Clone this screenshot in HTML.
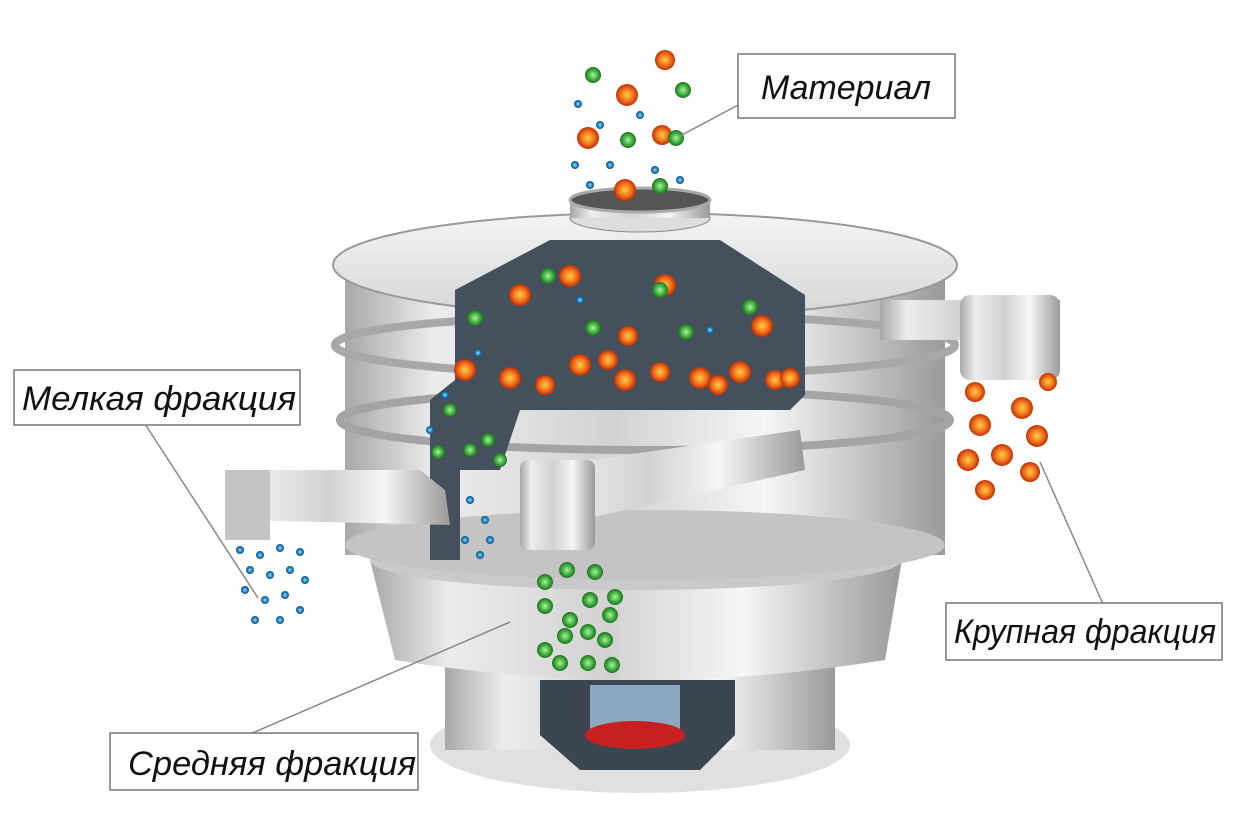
<!DOCTYPE html>
<html><head><meta charset="utf-8"><style>
html,body{margin:0;padding:0;background:#fff;}
.lbl{font-family:"Liberation Sans",sans-serif;font-style:italic;font-size:34px;fill:#111;}
</style></head><body>
<svg width="1233" height="827" viewBox="0 0 1233 827" xmlns="http://www.w3.org/2000/svg">
<defs>
<linearGradient id="steel" x1="0" x2="1" y1="0" y2="0">
<stop offset="0" stop-color="#a8a8a8"/><stop offset="0.15" stop-color="#ececec"/><stop offset="0.45" stop-color="#d2d2d2"/><stop offset="0.7" stop-color="#f6f6f6"/><stop offset="1" stop-color="#9a9a9a"/>
</linearGradient>
<linearGradient id="lid" x1="0" x2="0" y1="0" y2="1">
<stop offset="0" stop-color="#f4f4f4"/><stop offset="1" stop-color="#d6d6d6"/>
</linearGradient>
<radialGradient id="og"><stop offset="0" stop-color="#ffd040"/><stop offset="0.6" stop-color="#f07020"/><stop offset="1" stop-color="#c03000"/></radialGradient>
<radialGradient id="gg"><stop offset="0" stop-color="#b0f0a0"/><stop offset="0.6" stop-color="#40b040"/><stop offset="1" stop-color="#207020"/></radialGradient>
<radialGradient id="bg"><stop offset="0" stop-color="#a0e0ff"/><stop offset="0.6" stop-color="#2080c0"/><stop offset="1" stop-color="#105080"/></radialGradient>
</defs>

<!-- base -->
<ellipse cx="640" cy="745" rx="210" ry="48" fill="#e0e0e0"/>
<rect x="445" y="640" width="390" height="110" fill="url(#steel)"/>
<path d="M540 680 L735 680 L735 735 L700 770 L580 770 L540 735 Z" fill="#3c4650"/>
<rect x="590" y="685" width="90" height="45" fill="#8aa8c0"/>
<ellipse cx="635" cy="735" rx="50" ry="14" fill="#c82020"/>
<!-- lower body -->
<path d="M370 560 L902 560 L885 660 Q640 700 395 660 Z" fill="url(#steel)"/>
<ellipse cx="636" cy="560" rx="266" ry="30" fill="#cacaca"/>
<!-- decks -->
<rect x="345" y="275" width="600" height="280" fill="url(#steel)"/>
<ellipse cx="645" cy="545" rx="300" ry="35" fill="#c4c4c4"/>
<ellipse cx="645" cy="420" rx="305" ry="30" fill="none" stroke="#a4a4a4" stroke-width="8"/>
<ellipse cx="645" cy="345" rx="310" ry="30" fill="none" stroke="#a8a8a8" stroke-width="8"/>
<!-- lid -->
<ellipse cx="645" cy="265" rx="312" ry="52" fill="url(#lid)" stroke="#999" stroke-width="2"/>
<!-- cutaway -->
<path d="M455 290 L550 240 L720 240 L805 295 L805 395 L790 410 L520 410 L500 470 L460 470 L460 560 L430 560 L430 400 L455 380 Z" fill="#44505c"/>
<!-- inlet -->
<ellipse cx="640" cy="218" rx="70" ry="14" fill="#ddd" stroke="#888"/>
<rect x="570" y="200" width="140" height="18" fill="url(#steel)"/>
<ellipse cx="640" cy="200" rx="70" ry="12" fill="#555" stroke="#aaa" stroke-width="3"/>
<!-- spouts -->
<path d="M230 470 L420 470 L445 490 L450 525 L235 520 Z" fill="url(#steel)"/>
<rect x="225" y="470" width="45" height="70" fill="#c4c4c4"/>
<path d="M520 470 L800 430 L805 470 L580 520 Z" fill="url(#steel)"/>
<rect x="520" y="460" width="75" height="90" rx="8" fill="url(#steel)"/>
<rect x="880" y="300" width="180" height="40" fill="url(#steel)"/>
<rect x="960" y="295" width="100" height="85" rx="10" fill="url(#steel)"/>
<!-- particles -->
<g fill="url(#og)">
<circle cx="625" cy="190" r="11"/><circle cx="588" cy="138" r="11"/><circle cx="662" cy="135" r="10"/><circle cx="627" cy="95" r="11"/><circle cx="665" cy="60" r="10"/>
<circle cx="520" cy="295" r="11"/><circle cx="570" cy="276" r="11"/><circle cx="665" cy="285" r="11"/><circle cx="762" cy="326" r="11"/><circle cx="628" cy="336" r="10"/>
<circle cx="465" cy="370" r="11"/><circle cx="510" cy="378" r="11"/><circle cx="545" cy="385" r="10"/><circle cx="580" cy="365" r="11"/><circle cx="608" cy="360" r="10"/><circle cx="625" cy="380" r="11"/><circle cx="660" cy="372" r="10"/><circle cx="700" cy="378" r="11"/><circle cx="740" cy="372" r="11"/><circle cx="775" cy="380" r="10"/><circle cx="790" cy="378" r="10"/><circle cx="718" cy="385" r="10"/>
<circle cx="975" cy="392" r="10"/><circle cx="1022" cy="408" r="11"/><circle cx="980" cy="425" r="11"/><circle cx="1037" cy="436" r="11"/><circle cx="968" cy="460" r="11"/><circle cx="1002" cy="455" r="11"/><circle cx="1030" cy="472" r="10"/><circle cx="985" cy="490" r="10"/><circle cx="1048" cy="382" r="9"/>
</g>
<g fill="url(#gg)">
<circle cx="660" cy="186" r="8"/><circle cx="628" cy="140" r="8"/><circle cx="593" cy="75" r="8"/><circle cx="683" cy="90" r="8"/><circle cx="676" cy="138" r="8"/>
<circle cx="475" cy="318" r="8"/><circle cx="548" cy="276" r="8"/><circle cx="660" cy="290" r="8"/><circle cx="593" cy="328" r="8"/><circle cx="686" cy="332" r="8"/><circle cx="750" cy="307" r="8"/>
<circle cx="450" cy="410" r="7"/><circle cx="438" cy="452" r="7"/><circle cx="470" cy="450" r="7"/><circle cx="488" cy="440" r="7"/><circle cx="500" cy="460" r="7"/>
<circle cx="545" cy="582" r="8"/><circle cx="567" cy="570" r="8"/><circle cx="595" cy="572" r="8"/><circle cx="545" cy="606" r="8"/><circle cx="570" cy="620" r="8"/><circle cx="590" cy="600" r="8"/><circle cx="615" cy="597" r="8"/><circle cx="545" cy="650" r="8"/><circle cx="565" cy="636" r="8"/><circle cx="588" cy="632" r="8"/><circle cx="605" cy="640" r="8"/><circle cx="560" cy="663" r="8"/><circle cx="588" cy="663" r="8"/><circle cx="612" cy="665" r="8"/><circle cx="610" cy="615" r="8"/>
</g>
<g fill="url(#bg)">
<circle cx="578" cy="104" r="4"/><circle cx="600" cy="125" r="4"/><circle cx="640" cy="115" r="4"/><circle cx="610" cy="165" r="4"/><circle cx="655" cy="170" r="4"/><circle cx="680" cy="180" r="4"/><circle cx="590" cy="185" r="4"/><circle cx="575" cy="165" r="4"/>
<circle cx="478" cy="353" r="4"/><circle cx="580" cy="300" r="4"/><circle cx="710" cy="330" r="4"/><circle cx="445" cy="395" r="4"/><circle cx="430" cy="430" r="4"/><circle cx="470" cy="500" r="4"/><circle cx="485" cy="520" r="4"/><circle cx="465" cy="540" r="4"/><circle cx="490" cy="540" r="4"/><circle cx="480" cy="555" r="4"/>
<circle cx="240" cy="550" r="4"/><circle cx="260" cy="555" r="4"/><circle cx="280" cy="548" r="4"/><circle cx="300" cy="552" r="4"/><circle cx="250" cy="570" r="4"/><circle cx="270" cy="575" r="4"/><circle cx="290" cy="570" r="4"/><circle cx="305" cy="580" r="4"/><circle cx="245" cy="590" r="4"/><circle cx="265" cy="600" r="4"/><circle cx="285" cy="595" r="4"/><circle cx="300" cy="610" r="4"/><circle cx="255" cy="620" r="4"/><circle cx="280" cy="620" r="4"/>
</g>

<!-- leader lines -->
<g stroke="#888" stroke-width="1.5" fill="none">
<line x1="740" y1="104" x2="680" y2="136"/>
<line x1="145" y1="424" x2="258" y2="598"/>
<line x1="1103" y1="604" x2="1040" y2="462"/>
<line x1="250" y1="734" x2="510" y2="622"/>
</g>
<!-- labels -->
<g fill="#fff" stroke="#777" stroke-width="1.5">
<rect x="738" y="54" width="217" height="64"/>
<rect x="14" y="370" width="286" height="55"/>
<rect x="946" y="603" width="276" height="57"/>
<rect x="110" y="733" width="308" height="57"/>
</g>
<text class="lbl" x="846" y="99" text-anchor="middle" textLength="170" lengthAdjust="spacingAndGlyphs">Материал</text>
<text class="lbl" x="159" y="410" text-anchor="middle" textLength="274" lengthAdjust="spacingAndGlyphs">Мелкая фракция</text>
<text class="lbl" x="1085" y="643" text-anchor="middle" textLength="262" lengthAdjust="spacingAndGlyphs">Крупная фракция</text>
<text class="lbl" x="272" y="775" text-anchor="middle" textLength="288" lengthAdjust="spacingAndGlyphs">Средняя фракция</text>
</svg>
</body></html>
